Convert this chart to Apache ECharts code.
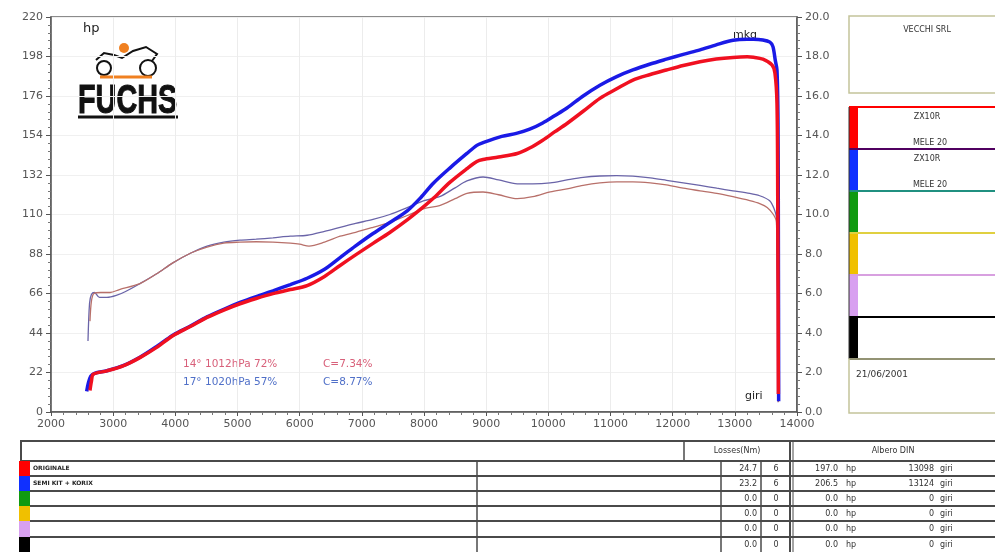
<!DOCTYPE html>
<html>
<head>
<meta charset="utf-8">
<script src="https://cdn.jsdelivr.net/npm/echarts@6/dist/echarts.min.js"></script>
<style>html,body{margin:0;padding:0;background:#fff;}#c{width:995px;height:552px;}</style>
</head>
<body>
<div id="c"></div>
<script>
// ---- DATA ----
const rpmBlueHp = [2574,2600,2640,2700,2900,3160,3430,3700,3960,4250,4510,4780,5040,5300,5570,5850,6120,6400,6650,6900,7180,7450,7730,7950,8150,8420,8690,8850,8950,9250,9500,9700,9910,10100,10300,10560,10830,11100,11360,11640,11900,12170,12440,12700,12970,13200,13300,13450,13565,13613,13650,13678,13694,13700,13705];
const hpBlue = [11.5,16,20,21.5,23,25.8,30.5,36.5,42.8,48,53,57.2,61,64.3,67.5,71,74.5,79.5,86,92.5,99.4,105.5,112,119.5,127.4,136,144,148.5,150,153.5,155.3,157.5,161,165,169.3,176,182,186.8,190.5,193.8,196.5,199.2,201.7,204.5,207.0,207.6,207.6,207.2,206,203.5,196,190.5,162,100,6];
const rpmRedHp = [2627,2650,2680,2900,3160,3430,3700,3960,4250,4510,4780,5040,5300,5570,5850,6120,6400,6650,6900,7180,7450,7730,8000,8150,8420,8690,8850,8950,9200,9500,9700,9910,10100,10300,10560,10830,11100,11360,11640,11900,12170,12440,12700,12970,13200,13300,13452,13597,13645,13678,13690,13700];
const hpRed = [12,17,21,22.9,25.7,30.3,36,42.5,47.8,52.7,56.8,60.3,63.2,65.9,68.2,70.4,75.5,81.6,87.5,93.9,100,107,114.5,119,128,135.5,139.5,140.6,142,144,147,151.4,156,160.7,167.5,174.7,180,184.9,188,190.5,193,195.1,196.6,197.5,197.8,197.6,196.5,193.3,188.8,172,120,10];
const rpmBlueTq = [2595,2620,2650,2700,2780,2900,3050,3200,3430,3700,3960,4250,4510,4780,5040,5300,5570,5850,6120,6400,6650,6900,7180,7450,7730,8000,8250,8500,8690,8950,9200,9500,9750,10030,10300,10560,10830,11100,11360,11640,11900,12170,12440,12710,12970,13240,13400,13560,13630,13670,13700];
const tqBlue = [3.6,5.5,5.95,6.05,5.8,5.8,5.9,6.1,6.5,7.0,7.55,8.05,8.4,8.6,8.7,8.75,8.82,8.9,8.95,9.15,9.35,9.55,9.75,10.0,10.35,10.7,10.9,11.35,11.7,11.9,11.75,11.55,11.55,11.6,11.75,11.88,11.95,11.97,11.94,11.85,11.73,11.6,11.47,11.33,11.2,11.07,10.95,10.7,10.3,9.8,0.5];
const rpmRedTq = [2627,2650,2690,2800,2950,3100,3430,3700,3960,4250,4510,4780,5040,5300,5570,5850,6000,6150,6400,6650,6900,7180,7450,7730,8000,8250,8500,8690,8950,9200,9500,9750,10030,10300,10560,10830,11100,11360,11640,11900,12170,12440,12710,12970,13240,13400,13520,13620,13670,13700];
const tqRed = [4.6,5.6,6.0,6.05,6.05,6.2,6.5,7.0,7.55,8.05,8.35,8.55,8.6,8.62,8.6,8.55,8.5,8.4,8.6,8.9,9.1,9.35,9.6,9.95,10.3,10.45,10.8,11.07,11.14,11.0,10.8,10.9,11.14,11.3,11.48,11.6,11.65,11.65,11.6,11.5,11.33,11.2,11.07,10.9,10.7,10.55,10.36,10.0,9.6,0.5];

const runNames = ['ORIGINALE','SEMI KIT + KORIX','','','',''];
const runColors = ['#ff0000','#1030ff','#109a10','#f0c000','#d8a0f0','#000000'];
const lossNm = ['24.7','23.2','0.0','0.0','0.0','0.0'];
const lossGear = ['6','6','0','0','0','0'];
const dinHp = ['197.0','206.5','0.0','0.0','0.0','0.0'];
const dinRpm = ['13098','13124','0','0','0','0'];
const sideLabels = [['ZX10R','MELE 20'],['ZX10R','MELE 20'],['',''],['',''],['',''],['','']];
const sepColors = ['#ff0000','#500060','#209080','#e0d040','#d8a0e0','#000000','#000000'];
const condA = ['14° 1012hPa 72%','17° 1020hPa 57%'];
const condB = ['C=7.34%','C=8.77%'];
const condColors = ['#d8607a','#5070c8'];

// ---- CHART ----
const chart = echarts.init(document.getElementById('c'), null, {renderer:'canvas'});
const pair = (xs, ys) => xs.map((x,i)=>[x, ys[i]]);
const FONT = 'DejaVu Sans';

const g = [];
// logo
g.push({type:'text', left:83, top:22, style:{text:'hp', font:'13px "DejaVu Sans"', fill:'#222'}});
g.push({type:'circle', shape:{cx:104, cy:68, r:7}, style:{fill:'none', stroke:'#111', lineWidth:2}});
g.push({type:'circle', shape:{cx:148, cy:68, r:8}, style:{fill:'none', stroke:'#111', lineWidth:2}});
g.push({type:'polyline', shape:{points:[[96,60],[104,53],[114,55],[122,58],[133,51],[146,47],[157,54],[152,61]]}, style:{fill:'none', stroke:'#111', lineWidth:2}});
g.push({type:'circle', shape:{cx:124, cy:48, r:5}, style:{fill:'#f08020'}});
g.push({type:'line', shape:{x1:100, y1:77, x2:152, y2:77}, style:{stroke:'#f08020', lineWidth:3}});
g.push({type:'text', x:78, y:82, scaleX:0.72, style:{text:'FUCHS', font:'bold 40px "Liberation Sans"', fill:'#111', stroke:'#111', lineWidth:1}});
g.push({type:'line', shape:{x1:78, y1:117, x2:178, y2:117}, style:{stroke:'#111', lineWidth:3}});
// plot labels
g.push({type:'text', left:733, top:30, style:{text:'mkg', font:'11px "DejaVu Sans"', fill:'#222'}});
g.push({type:'text', left:745, top:391, style:{text:'giri', font:'11px "DejaVu Sans"', fill:'#222'}});
for (let i=0;i<2;i++){
  g.push({type:'text', left:183, top:359+18*i, style:{text:condA[i], font:'10.5px "DejaVu Sans"', fill:condColors[i]}});
  g.push({type:'text', left:323, top:359+18*i, style:{text:condB[i], font:'10.5px "DejaVu Sans"', fill:condColors[i]}});
}

// right panel
const olive = '#c4c49a';
g.push({type:'rect', shape:{x:849, y:16, width:160, height:77}, style:{fill:'#fff', stroke:olive, lineWidth:1.5}});
g.push({type:'text', x:927, y:30, style:{text:'VECCHI SRL', font:'8px "DejaVu Sans"', fill:'#333', align:'center', verticalAlign:'middle'}});
for (let i=0;i<6;i++){
  const y0 = 107 + 42*i;
  g.push({type:'rect', shape:{x:849, y:y0, width:9, height:42}, style:{fill:runColors[i]}});
  if (sideLabels[i][0]) {
    g.push({type:'text', x:927, y:y0+10, style:{text:sideLabels[i][0], font:'8px "DejaVu Sans"', fill:'#333', align:'center', verticalAlign:'middle'}});
    g.push({type:'text', x:930, y:y0+36, style:{text:sideLabels[i][1], font:'8px "DejaVu Sans"', fill:'#333', align:'center', verticalAlign:'middle'}});
  }
}
for (let i=0;i<7;i++){
  const y = 107 + 42*i;
  g.push({type:'line', shape:{x1:849, y1:y, x2:1000, y2:y}, style:{stroke:sepColors[i], lineWidth:2}});
}
g.push({type:'line', shape:{x1:849, y1:107, x2:849, y2:359}, style:{stroke:'#333', lineWidth:1}});
g.push({type:'rect', shape:{x:849, y:359, width:160, height:54}, style:{fill:'none', stroke:olive, lineWidth:1.5}});
g.push({type:'text', x:856, y:375, style:{text:'21/06/2001', font:'9px "DejaVu Sans"', fill:'#333', verticalAlign:'middle'}});

// bottom table
const tc = '#4a4a4a';
g.push({type:'rect', shape:{x:21, y:441, width:1000, height:130}, style:{fill:'none', stroke:tc, lineWidth:2}});
const rowY = [461,476,491,506,521,537,552];
rowY.slice(0,6).forEach(y=>g.push({type:'line', shape:{x1:21, y1:y, x2:1000, y2:y}, style:{stroke:tc, lineWidth:2}}));
g.push({type:'line', shape:{x1:684, y1:441, x2:684, y2:461}, style:{stroke:tc, lineWidth:1.5}});
g.push({type:'line', shape:{x1:790, y1:441, x2:790, y2:552}, style:{stroke:tc, lineWidth:2}});
g.push({type:'line', shape:{x1:793, y1:441, x2:793, y2:552}, style:{stroke:tc, lineWidth:1}});
g.push({type:'line', shape:{x1:477, y1:461, x2:477, y2:552}, style:{stroke:tc, lineWidth:1.5}});
g.push({type:'line', shape:{x1:721, y1:461, x2:721, y2:552}, style:{stroke:tc, lineWidth:1.5}});
g.push({type:'line', shape:{x1:761, y1:461, x2:761, y2:552}, style:{stroke:tc, lineWidth:1.5}});
g.push({type:'text', x:737, y:451, style:{text:'Losses(Nm)', font:'8px "DejaVu Sans"', fill:'#333', align:'center', verticalAlign:'middle'}});
g.push({type:'text', x:893, y:451, style:{text:'Albero DIN', font:'8px "DejaVu Sans"', fill:'#333', align:'center', verticalAlign:'middle'}});
for (let i=0;i<6;i++){
  const y0 = rowY[i], y1 = rowY[i+1], cy = (y0+y1)/2;
  g.push({type:'rect', shape:{x:19, y:y0, width:11, height:y1-y0}, style:{fill:runColors[i]}});
  if (runNames[i]) g.push({type:'text', x:33, y:cy, style:{text:runNames[i], font:'bold 6px "DejaVu Sans"', fill:'#222', verticalAlign:'middle'}});
  g.push({type:'text', x:757, y:cy, style:{text:lossNm[i], font:'8px "DejaVu Sans"', fill:'#333', align:'right', verticalAlign:'middle'}});
  g.push({type:'text', x:776, y:cy, style:{text:lossGear[i], font:'8px "DejaVu Sans"', fill:'#333', align:'center', verticalAlign:'middle'}});
  g.push({type:'text', x:838, y:cy, style:{text:dinHp[i], font:'8px "DejaVu Sans"', fill:'#333', align:'right', verticalAlign:'middle'}});
  g.push({type:'text', x:846, y:cy, style:{text:'hp', font:'8px "DejaVu Sans"', fill:'#333', verticalAlign:'middle'}});
  g.push({type:'text', x:934, y:cy, style:{text:dinRpm[i], font:'8px "DejaVu Sans"', fill:'#333', align:'right', verticalAlign:'middle'}});
  g.push({type:'text', x:940, y:cy, style:{text:'giri', font:'8px "DejaVu Sans"', fill:'#333', verticalAlign:'middle'}});
}

const axLabel = {color:'#555', fontFamily:FONT, fontSize:11};
chart.setOption({
  backgroundColor:'#fff',
  animation:false,
  grid:{left:51, right:198, top:17, bottom:140, show:true, borderColor:'#666', borderWidth:1.5, backgroundColor:'transparent'},
  xAxis:{type:'value', min:2000, max:14000, interval:1000,
    axisLine:{lineStyle:{color:'#555', width:1.5}},
    axisTick:{length:4, lineStyle:{color:'#555'}},
    minorTick:{show:true, splitNumber:5, length:3, lineStyle:{color:'#777'}},
    axisLabel:Object.assign({margin:7, formatter:v=>String(v)}, axLabel),
    splitLine:{show:true, lineStyle:{color:'#ececec', width:1}}},
  yAxis:[
    {type:'value', min:0, max:220, interval:22, position:'left',
      axisLine:{show:true, lineStyle:{color:'#555', width:1.5}},
      axisTick:{show:true, length:5, lineStyle:{color:'#555'}},
      minorTick:{show:true, splitNumber:5, length:3, lineStyle:{color:'#777'}},
      axisLabel:Object.assign({margin:8, formatter:v=>String(v)}, axLabel),
      splitLine:{show:true, lineStyle:{color:'#f0f0f0', width:1}}},
    {type:'value', min:0, max:20, interval:2, position:'right',
      axisLine:{show:true, lineStyle:{color:'#555', width:1.5}},
      axisTick:{show:true, length:5, lineStyle:{color:'#555'}},
      minorTick:{show:true, splitNumber:5, length:3, lineStyle:{color:'#777'}},
      axisLabel:Object.assign({margin:8, formatter:v=>v.toFixed(1)}, axLabel),
      splitLine:{show:false}}
  ],
  series:[
    {type:'line', yAxisIndex:1, data:pair(rpmBlueTq,tqBlue), showSymbol:false, smooth:0.3, lineStyle:{color:'#6a64a8', width:1.3}, z:2},
    {type:'line', yAxisIndex:1, data:pair(rpmRedTq,tqRed), showSymbol:false, smooth:0.3, lineStyle:{color:'#b8706a', width:1.3}, z:2},
    {type:'line', yAxisIndex:0, data:pair(rpmBlueHp,hpBlue), showSymbol:false, smooth:0.3, lineStyle:{color:'#1a1ae6', width:3.5}, z:3},
    {type:'line', yAxisIndex:0, data:pair(rpmRedHp,hpRed), showSymbol:false, smooth:0.3, lineStyle:{color:'#f01020', width:3.5}, z:4}
  ],
  graphic:{elements:g}
});
</script>
</body>
</html>
